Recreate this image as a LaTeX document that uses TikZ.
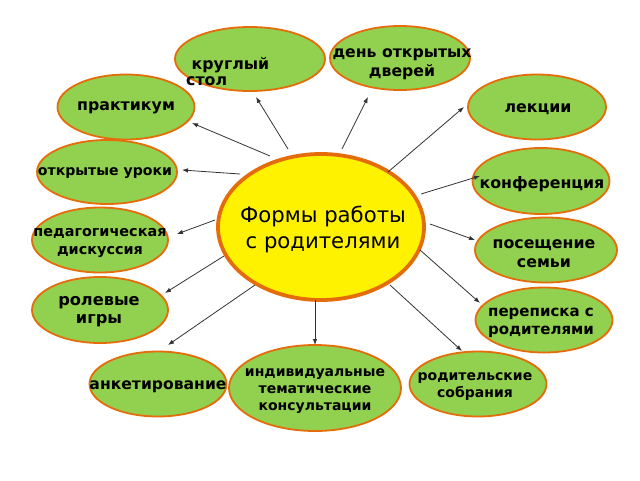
\documentclass[tikz,border=0pt]{standalone}
\usepackage{fontspec}
\setmainfont{DejaVu Sans}
\usetikzlibrary{shapes.geometric,arrows.meta}
\definecolor{leaf}{HTML}{92D050}
\definecolor{rim}{HTML}{E46C0A}
\newcommand{\fs}[2]{\bfseries\fontsize{#1}{#2}\selectfont}
\tikzset{
  oval/.style={ellipse,draw=rim,line width=1.8pt,fill=leaf,inner sep=0pt},
  hub/.style={ellipse,draw=rim,line width=3.8pt,fill=yellow,inner sep=0pt},
  lbl/.style={font=\fs{15.8}{18},align=center,inner sep=0pt},
  link/.style={draw=black!80,line width=0.8pt,-{Latex[length=6pt,width=4.5pt]}}
}
\begin{document}
\begin{tikzpicture}[x=1pt,y=-1pt]
\useasboundingbox (0,0) rectangle (640,480);
% ovals
\node[oval,minimum width=150,minimum height=64] (o1) at (250,59) {};
\node[oval,minimum width=140,minimum height=64] (o2) at (400,58) {};
\node[oval,minimum width=137,minimum height=65] (o3) at (126,107) {};
\node[oval,minimum width=140,minimum height=64] (o4) at (107,172) {};
\node[oval,minimum width=136,minimum height=65] (o5) at (100,240) {};
\node[oval,minimum width=136,minimum height=66] (o6) at (100,310) {};
\node[oval,minimum width=138,minimum height=65] (o7) at (537,107) {};
\node[oval,minimum width=137,minimum height=66] (o8) at (541,181) {};
\node[oval,minimum width=142,minimum height=65] (o9) at (546,250) {};
\node[oval,minimum width=137,minimum height=65] (o10) at (544,320) {};
\node[oval,minimum width=137,minimum height=65] (o11) at (158,384) {};
\node[oval,minimum width=172,minimum height=86] (o12) at (315,388) {};
\node[oval,minimum width=137,minimum height=65] (o13) at (478,384) {};
\node[hub,minimum width=206,minimum height=146] (hub) at (321,227) {};
% labels
\node[lbl,font=\fs{15.8}{16},align=left,anchor=west] (t1) at (186,72) {\ круглый\\стол};
\node[lbl,font=\fs{15.7}{19}] (t2) at (402,64) {день открытых\\дверей};
\node[lbl] (t3) at (126,108) {практикум};
\node[lbl,font=\fs{14.1}{18}] (t4) at (105,173) {открытые уроки};
\node[lbl,font=\fs{14.4}{18}] (t5) at (100,243) {педагогическая\\дискуссия};
\node[lbl,font=\fs{16.2}{18}] (t6) at (99,312) {ролевые\\игры};
\node[lbl] (t7) at (538,109) {лекции};
\node[lbl] (t8) at (542,184) {конференция};
\node[lbl,font=\fs{15.8}{19}] (t9) at (544,254) {посещение\\семьи};
\node[lbl,font=\fs{15}{18}] (t10) at (541,323) {переписка с\\родителями};
\node[lbl,font=\fs{15.6}{18}] (t11) at (158,387) {анкетирование};
\node[lbl,font=\fs{14}{17}] (t12) at (315,391) {индивидуальные\\тематические\\консультации};
\node[lbl,font=\fs{14}{17}] (t13) at (475,387) {родительские\\собрания};
\node[font=\fontsize{21.2}{26}\selectfont,align=center,inner sep=0pt] (th) at (323,229) {Формы работы\\ с родителями};
% connector ends
\coordinate (s1) at (288,149); \coordinate (e1) at (256,97);
\coordinate (s2) at (342,149); \coordinate (e2) at (368,97);
\coordinate (s3) at (270,156); \coordinate (e3) at (192,123);
\coordinate (s4) at (240,174); \coordinate (e4) at (182,170);
\coordinate (s5) at (215,220); \coordinate (e5) at (177,234);
\coordinate (s6) at (224,256); \coordinate (e6) at (165,293);
\coordinate (s7) at (388,172); \coordinate (e7) at (464,107);
\coordinate (s8) at (421,194); \coordinate (e8) at (480,176);
\coordinate (s9) at (430,224); \coordinate (e9) at (475,240);
\coordinate (s10) at (420,250); \coordinate (e10) at (480,303);
\coordinate (s11) at (255,285); \coordinate (e11) at (168,345);
\coordinate (s12) at (315,300); \coordinate (e12) at (315,345);
\coordinate (s13) at (390,285); \coordinate (e13) at (462,351);
\foreach \i in {1,...,13} {\draw[link] (s\i) -- (e\i);}
\end{tikzpicture}
\end{document}
